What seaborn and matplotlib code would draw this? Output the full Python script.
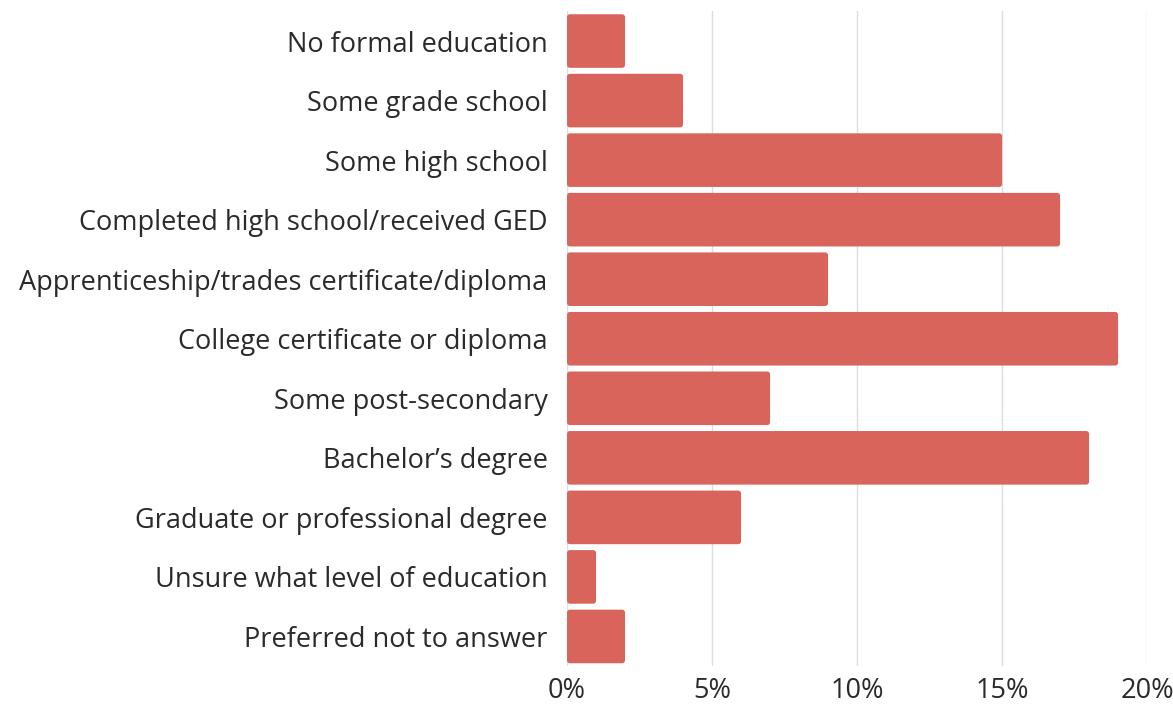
import pandas as pd
import seaborn as sns
import matplotlib.pyplot as plt
from matplotlib.patches import FancyBboxPatch
from matplotlib.ticker import FuncFormatter

# Education levels and share of respondents (%)
levels = [
    "No formal education",
    "Some grade school",
    "Some high school",
    "Completed high school/received GED",
    "Apprenticeship/trades certificate/diploma",
    "College certificate or diploma",
    "Some post-secondary",
    "Bachelor\u2019s degree",
    "Graduate or professional degree",
    "Unsure what level of education",
    "Preferred not to answer",
]
share = [2, 4, 15, 17, 9, 19, 7, 18, 6, 1, 2]
xticks = [0, 5, 10, 15, 20]

df = pd.DataFrame({"level": levels, "share": share})

sns.set_style("white")
plt.rcParams["font.family"] = ["Open Sans", "DejaVu Sans"]

fig = plt.figure(figsize=(11.73, 7.05), dpi=100)
ax = fig.add_axes([0.4834, 0.055, 0.4945, 0.929])

sns.barplot(data=df, x="share", y="level", color="#d9645b", saturation=1,
            width=0.9, ax=ax)

ax.set_xlim(0, 20)
ax.set_xticks(xticks)
ax.xaxis.set_major_formatter(FuncFormatter(lambda v, p: f"{v:.0f}%"))

# swap the plain rectangles for slightly rounded ones
bbox = ax.get_window_extent()
xpu = bbox.width / 20
ypu = bbox.height / len(levels)
for p in list(ax.patches):
    x, y = p.get_x(), p.get_y()
    w, h = p.get_width(), p.get_height()
    fb = FancyBboxPatch((x, y), w, h,
                        boxstyle="round,pad=0,rounding_size=0.1",
                        mutation_aspect=xpu / ypu,
                        facecolor=p.get_facecolor(), edgecolor="none")
    p.remove()
    ax.add_patch(fb)

ax.grid(axis="x", color="#dcdde6", linewidth=1)
ax.set_axisbelow(True)
for s in ax.spines.values():
    s.set_visible(False)
ax.set_xlabel("")
ax.set_ylabel("")
ax.tick_params(axis="y", labelsize=19.5, colors="#2a2a2a", length=0, pad=14)
ax.tick_params(axis="x", labelsize=19.5, colors="#2a2a2a", length=0, pad=8)

fig.savefig("out.png", dpi=100)
